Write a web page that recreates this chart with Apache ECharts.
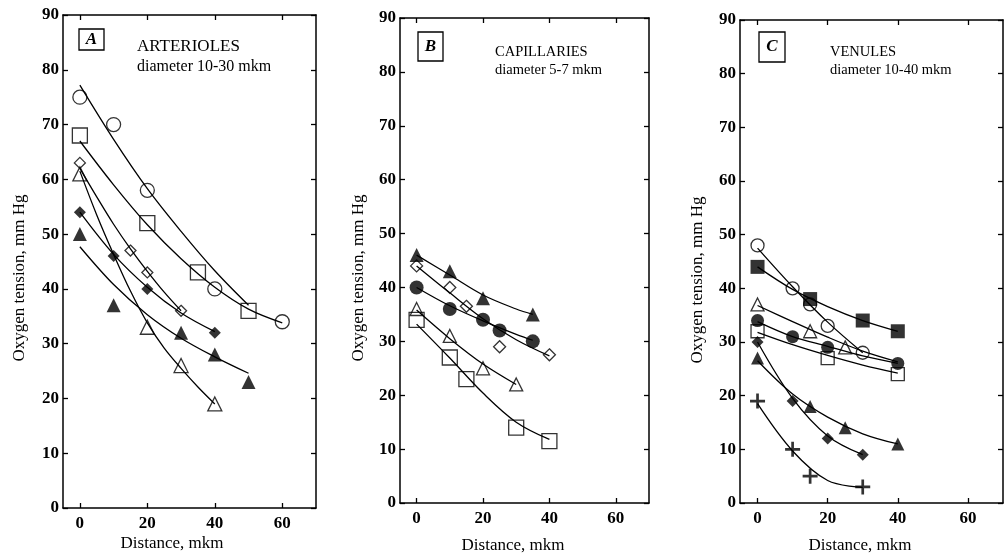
<!DOCTYPE html>
<html><head><meta charset="utf-8">
<script src="https://cdn.jsdelivr.net/npm/echarts@6/dist/echarts.min.js"></script>
<style>html,body{margin:0;padding:0;background:#fff}#c{width:1005px;height:556px}</style>
</head><body><div id="c"></div>
<script>
// ---------- tick labels ----------
const xTicks = [0, 20, 40, 60];
const yTicks = [0, 10, 20, 30, 40, 50, 60, 70, 80, 90];

// ---------- Panel A: ARTERIOLES (measured points) ----------
const A_openCircleX = [0, 10, 20, 40, 60];
const A_openCircleY = [75, 70, 58, 40, 34];
const A_openSquareX = [0, 20, 35, 50];
const A_openSquareY = [68, 52, 43, 36];
const A_openDiamondX = [0, 15, 20, 30];
const A_openDiamondY = [63, 47, 43, 36];
const A_openTriangleX = [0, 20, 30, 40];
const A_openTriangleY = [61, 33, 26, 19];
const A_fillDiamondX = [0, 10, 20, 40];
const A_fillDiamondY = [54, 46, 40, 32];
const A_fillTriangleX = [0, 10, 30, 40, 50];
const A_fillTriangleY = [50, 37, 32, 28, 23];
// Panel A fitted curves
const A_fit1X = [0, 10, 20, 30, 40, 50];
const A_fit1Y = [77.2, 67.3, 58.3, 50.5, 43.3, 37];
const A_fit2X = [0, 10, 20, 30, 40, 50, 60];
const A_fit2Y = [67, 59, 51.7, 45.5, 40.3, 36.3, 33.8];
const A_fit3X = [0, 5, 10, 15, 20, 25, 30];
const A_fit3Y = [62, 56.8, 51.8, 47.3, 43.2, 39.4, 36];
const A_fit4X = [0, 5, 10, 15, 20, 25, 30, 35, 40];
const A_fit4Y = [61.5, 53.5, 46.3, 39.6, 33.8, 29.2, 25.5, 22.1, 19];
const A_fit5X = [0, 10, 20, 30, 40];
const A_fit5Y = [54, 46.3, 40.3, 35.6, 32.2];
const A_fit6X = [0, 10, 20, 30, 40, 50];
const A_fit6Y = [47.7, 40.8, 35.3, 31, 27.6, 24.6];

// ---------- Panel B: CAPILLARIES ----------
const B_fillTriangleX = [0, 10, 20, 35];
const B_fillTriangleY = [46, 43, 38, 35];
const B_openDiamondX = [0, 10, 15, 25, 40];
const B_openDiamondY = [44, 40, 36.5, 29, 27.5];
const B_fillCircleX = [0, 10, 20, 25, 35];
const B_fillCircleY = [40, 36, 34, 32, 30];
const B_openTriangleX = [0, 10, 20, 30];
const B_openTriangleY = [36, 31, 25, 22];
const B_openSquareX = [0, 10, 15, 30, 40];
const B_openSquareY = [34, 27, 23, 14, 11.5];
const B_fit1X = [0, 10, 20, 30, 35];
const B_fit1Y = [46, 42.3, 38.6, 36, 35];
const B_fit2X = [0, 10, 20, 30, 40];
const B_fit2Y = [44, 39, 34.2, 30.3, 27.3];
const B_fit3X = [0, 10, 20, 30, 35];
const B_fit3Y = [40, 36.6, 33.8, 31.3, 30.2];
const B_fit4X = [0, 10, 20, 30];
const B_fit4Y = [35.8, 30.5, 25.8, 22];
const B_fit5X = [0, 10, 20, 30, 40];
const B_fit5Y = [33.2, 26.9, 20.4, 15, 11.8];

// ---------- Panel C: VENULES ----------
const C_openCircleX = [0, 10, 15, 20, 30];
const C_openCircleY = [48, 40, 37, 33, 28];
const C_fillSquareX = [0, 15, 30, 40];
const C_fillSquareY = [44, 38, 34, 32];
const C_openTriangleX = [0, 15, 25];
const C_openTriangleY = [37, 32, 29];
const C_openSquareX = [0, 20, 40];
const C_openSquareY = [32, 27, 24];
const C_fillCircleX = [0, 10, 20, 40];
const C_fillCircleY = [34, 31, 29, 26];
const C_fillDiamondX = [0, 10, 20, 30];
const C_fillDiamondY = [30, 19, 12, 9];
const C_fillTriangleX = [0, 15, 25, 40];
const C_fillTriangleY = [27, 18, 14, 11];
const C_crossX = [0, 10, 15, 30];
const C_crossY = [19, 10, 5, 3];
const C_fit1X = [0, 10, 20, 30];
const C_fit1Y = [47.5, 40.3, 33.7, 28];
const C_fit2X = [0, 10, 20, 30, 40];
const C_fit2Y = [44, 39.8, 36.6, 34, 32];
const C_fit3X = [0, 10, 20, 30, 40];
const C_fit3Y = [36.8, 33.8, 30.9, 28.3, 26.3];
const C_fit4X = [0, 10, 20, 30, 40];
const C_fit4Y = [33.8, 31, 29.2, 27.4, 26];
const C_fit5X = [0, 10, 20, 30, 40];
const C_fit5Y = [31.8, 29.5, 27.5, 25.7, 24.2];
const C_fit6X = [0, 10, 20, 30];
const C_fit6Y = [30, 19.5, 12.5, 9];
const C_fit7X = [0, 10, 20, 30, 40];
const C_fit7Y = [26.5, 20.3, 16, 12.9, 11];
const C_fit8X = [0, 10, 20, 30];
const C_fit8Y = [18.5, 9.7, 4.2, 2.9];

// ---------- helpers ----------
const SERIF = '"Liberation Serif", "DejaVu Serif", serif';
const pts = (xs, ys) => xs.map((x, i) => [x, ys[i]]);
const OPEN = { color: 'rgba(0,0,0,0)', borderColor: '#000', borderWidth: 1.3 };
const FILL = { color: '#000', borderWidth: 0 };
const CROSS = 'path://M0,4.1 H10 V5.9 H0 Z M4.1,0 H5.9 V10 H4.1 Z';

function fit(g, xs, ys) {
  return { type: 'line', xAxisIndex: g * 2, yAxisIndex: g * 2, data: pts(xs, ys),
    smooth: 0.35, showSymbol: false, silent: true, z: 2,
    lineStyle: { color: '#000', width: 1.3 } };
}
function mark(g, xs, ys, symbol, size, style) {
  return { type: 'scatter', xAxisIndex: g * 2, yAxisIndex: g * 2, data: pts(xs, ys),
    symbol: symbol, symbolSize: size, itemStyle: style, z: 3, silent: true };
}

const grids = [
  { left: 63, top: 15, width: 253, height: 493 },
  { left: 400, top: 18, width: 249, height: 485 },
  { left: 740, top: 20, width: 263, height: 483 }
];

const xAxes = [], yAxes = [];
grids.forEach((g, i) => {
  const line = { show: true, onZero: false, lineStyle: { color: '#000', width: 1.5 } };
  xAxes.push({ gridIndex: i, type: 'value', min: -5, max: 70, position: 'bottom',
    axisLine: line, splitLine: { show: false },
    axisTick: { show: true, inside: true, length: 5, customValues: xTicks, lineStyle: { color: '#000', width: 1.3 } },
    axisLabel: { customValues: xTicks, color: '#000', fontFamily: SERIF, fontWeight: 'bold', fontSize: 17, margin: 7 } });
  xAxes.push({ gridIndex: i, type: 'value', min: -5, max: 70, position: 'top',
    axisLine: line, splitLine: { show: false },
    axisTick: { show: true, inside: true, length: 5, customValues: xTicks, lineStyle: { color: '#000', width: 1.3 } },
    axisLabel: { show: false } });
  yAxes.push({ gridIndex: i, type: 'value', min: 0, max: 90, interval: 10, position: 'left',
    axisLine: line, splitLine: { show: false },
    axisTick: { show: true, inside: true, length: 5, lineStyle: { color: '#000', width: 1.3 } },
    axisLabel: { color: '#000', fontFamily: SERIF, fontWeight: 'bold', fontSize: 17, margin: 4,
      formatter: v => yTicks.includes(v) ? String(v) : '' } });
  yAxes.push({ gridIndex: i, type: 'value', min: 0, max: 90, interval: 10, position: 'right',
    axisLine: line, splitLine: { show: false },
    axisTick: { show: true, inside: true, length: 5, lineStyle: { color: '#000', width: 1.3 } },
    axisLabel: { show: false } });
});

const series = [
  // A
  fit(0, A_fit1X, A_fit1Y), fit(0, A_fit2X, A_fit2Y), fit(0, A_fit3X, A_fit3Y),
  fit(0, A_fit4X, A_fit4Y), fit(0, A_fit5X, A_fit5Y), fit(0, A_fit6X, A_fit6Y),
  mark(0, A_openCircleX, A_openCircleY, 'circle', 14, OPEN),
  mark(0, A_openSquareX, A_openSquareY, 'rect', 15, OPEN),
  mark(0, A_openDiamondX, A_openDiamondY, 'diamond', 11, OPEN),
  mark(0, A_openTriangleX, A_openTriangleY, 'triangle', 14, OPEN),
  mark(0, A_fillDiamondX, A_fillDiamondY, 'diamond', 12, FILL),
  mark(0, A_fillTriangleX, A_fillTriangleY, 'triangle', 14, FILL),
  // B
  fit(1, B_fit1X, B_fit1Y), fit(1, B_fit2X, B_fit2Y), fit(1, B_fit3X, B_fit3Y),
  fit(1, B_fit4X, B_fit4Y), fit(1, B_fit5X, B_fit5Y),
  mark(1, B_fillTriangleX, B_fillTriangleY, 'triangle', 14, FILL),
  mark(1, B_openDiamondX, B_openDiamondY, 'diamond', 12, OPEN),
  mark(1, B_fillCircleX, B_fillCircleY, 'circle', 14, FILL),
  mark(1, B_openTriangleX, B_openTriangleY, 'triangle', 13, OPEN),
  mark(1, B_openSquareX, B_openSquareY, 'rect', 15, OPEN),
  // C
  fit(2, C_fit1X, C_fit1Y), fit(2, C_fit2X, C_fit2Y), fit(2, C_fit3X, C_fit3Y),
  fit(2, C_fit4X, C_fit4Y), fit(2, C_fit5X, C_fit5Y), fit(2, C_fit6X, C_fit6Y),
  fit(2, C_fit7X, C_fit7Y), fit(2, C_fit8X, C_fit8Y),
  mark(2, C_openSquareX, C_openSquareY, 'rect', 13, OPEN),
  mark(2, C_fillCircleX, C_fillCircleY, 'circle', 13, FILL),
  mark(2, C_openCircleX, C_openCircleY, 'circle', 13, OPEN),
  mark(2, C_fillSquareX, C_fillSquareY, 'rect', 14, FILL),
  mark(2, C_openTriangleX, C_openTriangleY, 'triangle', 13, OPEN),
  mark(2, C_fillDiamondX, C_fillDiamondY, 'diamond', 12, FILL),
  mark(2, C_fillTriangleX, C_fillTriangleY, 'triangle', 13, FILL),
  mark(2, C_crossX, C_crossY, CROSS, 15, FILL)
];

function txt(x, y, s, size, opts) {
  return Object.assign({ type: 'text', x: x, y: y, silent: true,
    style: Object.assign({ text: s, fill: '#000', font: size + 'px ' + SERIF,
      textAlign: 'left', textVerticalAlign: 'middle' }, opts || {}) });
}
function boxLabel(x, y, w, h, s) {
  return [
    { type: 'rect', shape: { x: x, y: y, width: w, height: h }, silent: true,
      style: { fill: '#fff', stroke: '#000', lineWidth: 1.3 } },
    { type: 'text', x: x + w / 2, y: y + h / 2, silent: true,
      style: { text: s, fill: '#000', font: 'italic bold 17px ' + SERIF, textAlign: 'center', textVerticalAlign: 'middle' } }
  ];
}
function yName(x, y) {
  return { type: 'text', x: x, y: y, rotation: Math.PI / 2, silent: true,
    style: { text: 'Oxygen tension, mm Hg', fill: '#000', font: '17px ' + SERIF, textAlign: 'center', textVerticalAlign: 'middle' } };
}
function xName(x, y) {
  return { type: 'text', x: x, y: y, silent: true,
    style: { text: 'Distance, mkm', fill: '#000', font: '17px ' + SERIF, textAlign: 'center', textVerticalAlign: 'middle' } };
}

const graphic = [].concat(
  boxLabel(79, 29, 25, 21, 'A'),
  boxLabel(418, 32, 25, 29, 'B'),
  boxLabel(759, 32, 26, 30, 'C'),
  [
    txt(137, 47, 'ARTERIOLES', 17),
    txt(137, 67, 'diameter 10-30 mkm', 16),
    txt(495, 52, 'CAPILLARIES', 14.5),
    txt(495, 70, 'diameter 5-7 mkm', 14.5),
    txt(830, 52, 'VENULES', 14.5),
    txt(830, 70, 'diameter 10-40 mkm', 14.5),
    yName(20, 278), yName(359, 278), yName(698, 280),
    xName(172, 544), xName(513, 546), xName(860, 546)
  ]
);

const chart = echarts.init(document.getElementById('c'), null, { renderer: 'canvas' });
chart.setOption({
  animation: false,
  backgroundColor: '#fff',
  grid: grids,
  xAxis: xAxes,
  yAxis: yAxes,
  series: series,
  graphic: graphic
});
</script></body></html>
